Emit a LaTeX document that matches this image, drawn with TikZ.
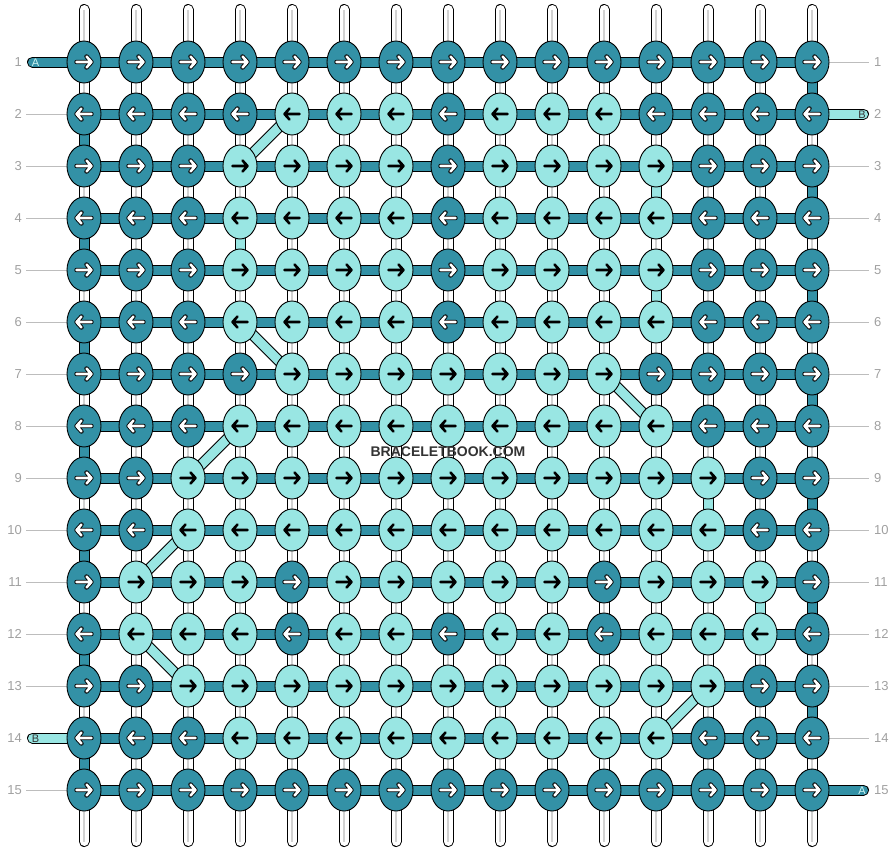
\documentclass[tikz,border=0pt]{standalone}
\usepackage{fontspec}
\setmainfont{Liberation Sans}
\usetikzlibrary{shapes.geometric}
\definecolor{teal1}{RGB}{51,145,166}
\definecolor{light1}{RGB}{153,230,227}
\definecolor{numgray}{RGB}{160,160,160}
\pgfdeclarelayer{bg}
\pgfsetlayers{bg,main}

\begin{document}
\begin{tikzpicture}[x=1pt,y=-1pt]
\tikzset{knot/.style={draw, ellipse, line width=0.9pt, minimum width=34pt, minimum height=42pt, inner sep=0pt},
  arrowpic/.style n args={3}{path picture={\begin{scope}[shift={(path picture bounding box.center)}, line cap=round, line join=round]
    \draw[#2, line width=4.4pt] ({-7.5*#1},0) -- ({7.5*#1},0) ({2.5*#1},-5.5) -- ({7.5*#1},0) -- ({2.5*#1},5.5);
    \draw[#3, line width=2.6pt] ({-7.5*#1},0) -- ({7.5*#1},0) ({2.5*#1},-5.5) -- ({7.5*#1},0) -- ({2.5*#1},5.5);
  \end{scope}}},
  bar/.style={double=#1, double distance=9pt, line width=1pt},
  tube/.style={bar=white, line cap=round},
  tailbar/.style={bar=#1, line cap=round},
  rownum/.style={text=numgray, font=\fontsize{13}{15}\selectfont, inner sep=0pt},
  guide/.style={draw=numgray!70, line width=0.8pt},
  endlabel/.style={font=\fontsize{11}{12}\selectfont, inner sep=0pt}}
\useasboundingbox (0,0) rectangle (896,852);
\foreach \r/\pat in {1/{0,0,0,0,0,0,0,0,0,0,0,0,0,0,0},
  2/{0,0,0,0,1,1,1,0,1,1,1,0,0,0,0},
  3/{0,0,0,1,1,1,1,0,1,1,1,1,0,0,0},
  4/{0,0,0,1,1,1,1,0,1,1,1,1,0,0,0},
  5/{0,0,0,1,1,1,1,0,1,1,1,1,0,0,0},
  6/{0,0,0,1,1,1,1,0,1,1,1,1,0,0,0},
  7/{0,0,0,0,1,1,1,1,1,1,1,0,0,0,0},
  8/{0,0,0,1,1,1,1,1,1,1,1,1,0,0,0},
  9/{0,0,1,1,1,1,1,1,1,1,1,1,1,0,0},
  10/{0,0,1,1,1,1,1,1,1,1,1,1,1,0,0},
  11/{0,1,1,1,0,1,1,1,1,1,0,1,1,1,0},
  12/{0,1,1,1,0,1,1,0,1,1,0,1,1,1,0},
  13/{0,0,1,1,1,1,1,1,1,1,1,1,1,0,0},
  14/{0,0,0,1,1,1,1,1,1,1,1,1,0,0,0},
  15/{0,0,0,0,0,0,0,0,0,0,0,0,0,0,0}}{
  \pgfmathtruncatemacro\arrdir{2*mod(\r,2)-1}
  \foreach \v [count=\c] in \pat {
    \ifnum\v=1 \def\fc{light1}\def\oc{light1}\def\ic{black}\else \def\fc{teal1}\def\oc{black}\def\ic{white}\fi
    \node[knot, fill=\fc, arrowpic={\arrdir}{\oc}{\ic}] (k-\r-\c) at (32+52*\c, 10+52*\r) {};
  }
}
\begin{pgfonlayer}{bg}
\foreach \c in {1,...,15}{
  \coordinate (t-\c) at (32+52*\c, 9.5);
  \coordinate (b-\c) at (32+52*\c, 841.5);
  \draw[tube] (t-\c) -- (b-\c);
  \draw[gray!35, line width=1.6pt] (t-\c) -- (b-\c);
}
\foreach \r in {1,3,...,13}{\pgfmathtruncatemacro\nx{\r+1}\draw[bar=teal1] (k-\r-15.center) -- (k-\nx-15.center);}
\foreach \r in {2,4,...,14}{\pgfmathtruncatemacro\nx{\r+1}\draw[bar=teal1] (k-\r-1.center) -- (k-\nx-1.center);}
\foreach \c/\r/\nx in {4/4/5, 12/3/4, 12/5/6, 13/9/10, 14/11/12}
  \draw[bar=light1] (k-\r-\c.center) -- (k-\nx-\c.center);
\foreach \r in {1,...,15}
  \foreach \c in {1,...,14}{\pgfmathtruncatemacro\d{\c+1}\draw[bar=teal1] (k-\r-\c.center) -- (k-\r-\d.center);}
\foreach \a/\b in {2-5/3-4, 6-4/7-5, 7-11/8-12, 8-4/9-3, 10-3/11-2, 12-2/13-3, 13-13/14-12}
  \draw[bar=light1] (k-\a.center) -- (k-\b.center);
\coordinate (ta-l) at (32.5,62);
\coordinate (tb-r) at (863.5,114);
\coordinate (tb-l) at (32.5,738);
\coordinate (ta-r) at (863.5,790);
\draw[tailbar=teal1] (ta-l) -- (k-1-1.center);
\draw[tailbar=light1] (k-2-15.center) -- (tb-r);
\draw[tailbar=light1] (tb-l) -- (k-14-1.center);
\draw[tailbar=teal1] (k-15-15.center) -- (ta-r);
\foreach \r in {2,...,13,15}{\coordinate (gl-\r) at (26,10+52*\r); \draw[guide] (gl-\r) -- (k-\r-1.center);}
\foreach \r in {1,3,4,...,14}{\coordinate (gr-\r) at (869,10+52*\r); \draw[guide] (k-\r-15.center) -- (gr-\r);}
\end{pgfonlayer}
\node[endlabel, text=light1!50!white] (la-l) at (35.5,62.5) {A};
\node[endlabel, text=black!80] (lb-r) at (862,114.5) {B};
\node[endlabel, text=black!80] (lb-l) at (35.5,738.5) {B};
\node[endlabel, text=light1!50!white] (la-r) at (862,790.5) {A};
\foreach \r in {1,...,15}{
  \node[rownum, anchor=east] (nl-\r) at (22,10+52*\r) {\r};
  \node[rownum, anchor=west] (nr-\r) at (874,10+52*\r) {\r};
}
\node[font=\bfseries\fontsize{14}{16}\selectfont, text=black!80] (wm) at (448,452) {BRACELETBOOK.COM};
\end{tikzpicture}
\end{document}
